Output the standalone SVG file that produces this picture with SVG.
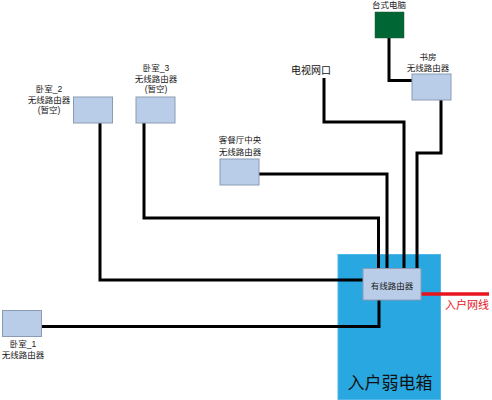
<svg xmlns="http://www.w3.org/2000/svg" width="492" height="400" viewBox="0 0 492 400">
<style>
.bg{fill:#ffffff}
.node{fill:#b9cde8;stroke:#8b9bb4;stroke-width:1}
.t{font-family:"Liberation Sans","Noto Sans CJK SC",sans-serif;font-size:8.5px;fill:#1a1a1a;text-anchor:middle}
.w{fill:none;stroke:#000;stroke-width:3}
</style>
<rect class="bg" x="0" y="0" width="492" height="400"/>
<g id="box">
<rect x="338" y="254.5" width="102.5" height="145" fill="#29a7e0" stroke="#4fb8e8" stroke-width="1"/>
<text x="390" y="389" font-family="Liberation Sans,Noto Sans CJK SC,sans-serif" font-size="17px" fill="#111" text-anchor="middle">入户弱电箱</text>
</g>
<g id="connectors">
<polyline class="w" points="100,123 100,280 363,280"/>
<polyline class="w" points="144,123 144,218 378.5,218 378.5,268"/>
<polyline class="w" points="258,174 387,174 387,268"/>
<polyline class="w" points="324,78 324,122 404,122 404,268"/>
<polyline class="w" points="441,100 441,153 417,153 417,268"/>
<polyline class="w" points="389,38 389,80.5 412,80.5"/>
<polyline class="w" points="41,326.5 379,326.5 379,300"/>
<line x1="421" y1="294" x2="489" y2="294" stroke="#e8141e" stroke-width="3.5"/>
</g>
<g id="router">
<rect class="node" x="363" y="268.5" width="58" height="31.5"/>
<text class="t" x="392" y="289">有线路由器</text>
</g>
<g id="bedroom2">
<rect class="node" x="73.5" y="97" width="39" height="26"/>
<text class="t" x="49" y="92">卧室_2</text>
<text class="t" x="49" y="103">无线路由器</text>
<text class="t" x="49" y="113">(暂空)</text>
</g>
<g id="bedroom3">
<rect class="node" x="136" y="97" width="39" height="26"/>
<text class="t" x="156" y="71">卧室_3</text>
<text class="t" x="156" y="82">无线路由器</text>
<text class="t" x="156" y="92">(暂空)</text>
</g>
<g id="living">
<rect class="node" x="220" y="159" width="39" height="26"/>
<text class="t" x="240" y="143">客餐厅中央</text>
<text class="t" x="240" y="155">无线路由器</text>
</g>
<g id="bedroom1">
<rect class="node" x="2.5" y="310.5" width="39" height="26"/>
<text class="t" x="23" y="347">卧室_1</text>
<text class="t" x="23" y="358">无线路由器</text>
</g>
<g id="study">
<rect class="node" x="412" y="74" width="39" height="26"/>
<text class="t" x="428" y="60">书房</text>
<text class="t" x="428" y="71">无线路由器</text>
</g>
<g id="pc">
<rect x="375" y="12" width="29" height="26" fill="#006633" stroke="#2a5a3a" stroke-width="0.5"/>
<text class="t" x="389" y="8">台式电脑</text>
</g>
<g id="tv">
<text x="311" y="74" font-family="Liberation Sans,Noto Sans CJK SC,sans-serif" font-size="10px" fill="#111" text-anchor="middle">电视网口</text>
</g>
<g id="inlet">
<text x="445" y="309" font-family="Liberation Sans,Noto Sans CJK SC,sans-serif" font-size="11px" fill="#e8141e">入户网线</text>
</g>
</svg>
